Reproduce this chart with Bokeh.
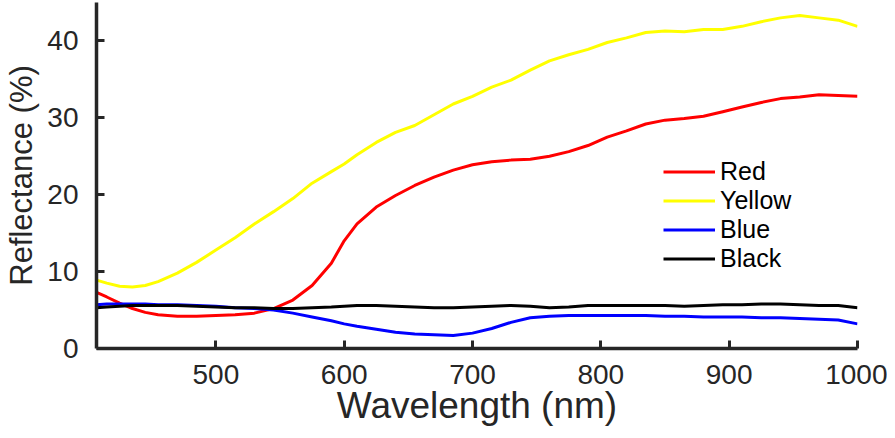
from bokeh.plotting import figure
from bokeh.models import Range1d, Legend, LegendItem, SingleIntervalTicker
from bokeh.embed import file_html
from bokeh.resources import INLINE

wavelength = [407, 415, 425, 435, 445, 455, 470, 485, 500, 515, 530, 545, 560, 575, 590,
              600, 610, 625, 640, 655, 670, 685, 700, 715, 730, 745, 760, 775, 790, 805,
              820, 835, 850, 865, 880, 895, 910, 925, 940, 955, 970, 985, 1000]

red = [7.3, 6.7, 5.9, 5.2, 4.7, 4.4, 4.2, 4.2, 4.3, 4.4, 4.6, 5.2, 6.3, 8.2, 11.1,
       14.0, 16.2, 18.4, 19.9, 21.2, 22.3, 23.2, 23.9, 24.3, 24.5, 24.6, 25.0, 25.6, 26.4, 27.5,
       28.3, 29.2, 29.7, 29.9, 30.2, 30.8, 31.4, 32.0, 32.5, 32.7, 33.0, 32.9, 32.8]

yellow = [8.9, 8.5, 8.1, 8.0, 8.2, 8.7, 9.8, 11.2, 12.8, 14.4, 16.2, 17.8, 19.5, 21.5, 23.0,
          24.0, 25.2, 26.8, 28.1, 29.0, 30.4, 31.8, 32.8, 34.0, 34.9, 36.2, 37.4, 38.2, 38.9, 39.8,
          40.4, 41.1, 41.3, 41.2, 41.5, 41.5, 41.9, 42.5, 43.0, 43.3, 43.0, 42.7, 41.9]

blue = [5.7, 5.8, 5.8, 5.8, 5.8, 5.7, 5.7, 5.6, 5.5, 5.3, 5.2, 5.0, 4.6, 4.1, 3.6,
        3.2, 2.9, 2.5, 2.1, 1.9, 1.8, 1.7, 2.0, 2.6, 3.4, 4.0, 4.2, 4.3, 4.3, 4.3,
        4.3, 4.3, 4.2, 4.2, 4.1, 4.1, 4.1, 4.0, 4.0, 3.9, 3.8, 3.7, 3.2]

black = [5.3, 5.4, 5.5, 5.6, 5.6, 5.6, 5.6, 5.5, 5.4, 5.3, 5.3, 5.2, 5.2, 5.3, 5.4,
         5.5, 5.6, 5.6, 5.5, 5.4, 5.3, 5.3, 5.4, 5.5, 5.6, 5.5, 5.3, 5.4, 5.6, 5.6,
         5.6, 5.6, 5.6, 5.5, 5.6, 5.7, 5.7, 5.8, 5.8, 5.7, 5.6, 5.6, 5.3]

series_names = ["Red", "Yellow", "Blue", "Black"]
series_values = [red, yellow, blue, black]
series_colors = ["#ff0000", "#ffff00", "#0000ff", "#000000"]

FONT = "Liberation Sans"
AX = "#262626"

p = figure(width=887, height=430, output_backend="svg", toolbar_location=None,
           x_range=Range1d(407, 1000), y_range=Range1d(0, 45),
           min_border_left=96, min_border_right=30, min_border_top=2, min_border_bottom=82)
p.outline_line_color = None
p.grid.visible = False
p.background_fill_color = "white"

items = []
for name, vals, col in zip(series_names, series_values, series_colors):
    r = p.line(wavelength, vals, line_color=col, line_width=3)
    items.append(LegendItem(label=name, renderers=[r]))

for ax in (p.xaxis[0], p.yaxis[0]):
    ax.axis_line_color = AX
    ax.axis_line_width = 3.5
    ax.major_tick_line_color = AX
    ax.major_tick_line_width = 3
    ax.major_tick_in = 8
    ax.major_tick_out = 0
    ax.minor_tick_line_color = None
    ax.major_label_text_font = FONT
    ax.major_label_text_font_size = "28px"
    ax.major_label_text_color = AX
    ax.axis_label_text_font = FONT
    ax.axis_label_text_color = AX
    ax.axis_label_text_font_style = "normal"

p.xaxis[0].ticker = SingleIntervalTicker(interval=100)
p.yaxis[0].ticker = SingleIntervalTicker(interval=10)
p.xaxis[0].axis_label = "Wavelength (nm)"
p.yaxis[0].axis_label = "Reflectance (%)"
p.xaxis[0].axis_label_text_font_size = "37px"
p.yaxis[0].axis_label_text_font_size = "31px"
p.xaxis[0].major_label_standoff = 12
p.yaxis[0].major_label_standoff = 14
p.xaxis[0].axis_label_standoff = -2
p.yaxis[0].axis_label_standoff = 5

legend = Legend(items=items, location=(567, 75), border_line_color=None,
                background_fill_alpha=0, padding=0, margin=0, spacing=0,
                glyph_width=52, glyph_height=29, label_height=29, label_standoff=5,
                label_text_font=FONT, label_text_font_size="25px", label_text_color="#000000")
p.add_layout(legend)

open("out.html", "w").write(file_html(p, INLINE))
